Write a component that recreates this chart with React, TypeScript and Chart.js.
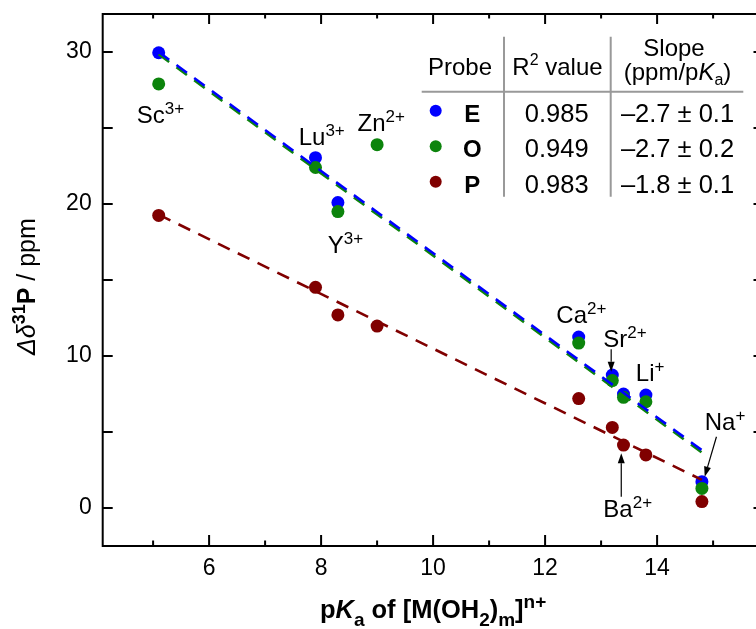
import React, { useEffect, useRef } from 'react';
import { Chart, registerables } from 'chart.js';

Chart.register(...registerables);

// ---------- data ----------
const ions = ['Sc', 'Lu', 'Zn', 'Y', 'Ca', 'Sr', 'Ba', 'Li', 'Na'];
const charges = ['3+', '3+', '2+', '3+', '2+', '2+', '2+', '+', '+'];
const pKa = [5.1, 7.9, 9.0, 8.3, 12.6, 13.2, 13.4, 13.8, 14.8];
const shiftE: (number | null)[] = [29.95, 23.05, null, 20.1, 11.25, 8.75, 7.5, 7.43, 1.73];
const shiftO: (number | null)[] = [27.9, 22.4, 23.9, 19.5, 10.85, 8.38, 7.28, 6.99, 1.29];
const shiftP: (number | null)[] = [19.25, 14.52, 11.97, 12.7, 7.2, 5.3, 4.14, 3.49, 0.42];

const fitX = [5.1, 14.8];
const fitE = [30.0, 3.8];
const fitO = [29.85, 3.65];
const fitP = [19.3, 1.85];

const probes = ['E', 'O', 'P'];
const r2Values = ['0.985', '0.949', '0.983'];
const slopes = ['\u20132.7 \u00b1 0.1', '\u20132.7 \u00b1 0.2', '\u20131.8 \u00b1 0.1'];

const xLabelTicks = [6, 8, 10, 12, 14];
const xMinorTicks = [5, 7, 9, 11, 13, 15];
const yLabelTicks = [0, 10, 20, 30];
const yMinorTicks = [5, 15, 25];

// label anchors (data units): left x, baseline y
const labelX = [4.71, 7.6, 8.65, 8.12, 12.2, 13.04, 13.04, 13.62, 14.85];
const labelY = [25.35, 23.88, 24.82, 16.76, 12.15, 10.61, -0.57, 8.38, 5.13];

// arrows (data units): tail -> tip
const arrowFromX = [13.18, 13.36, 15.06];
const arrowFromY = [10.44, 0.74, 4.69];
const arrowToX = [13.18, 13.36, 14.85];
const arrowToY = [8.97, 3.6, 2.06];

const COLORS = { E: '#0000ff', O: '#0c840c', P: '#800000' };
const FAMILY = "'Liberation Sans', Arial, sans-serif";

type Seg = { t: string; style?: string; weight?: string; size: number; dy?: number };

function fontOf(s: Seg) {
  return `${s.style || 'normal'} ${s.weight || 'normal'} ${s.size}px ${FAMILY}`;
}

function drawRich(ctx: CanvasRenderingContext2D, segs: Seg[], x: number, y: number, align: 'left' | 'center') {
  let total = 0;
  for (const s of segs) {
    ctx.font = fontOf(s);
    total += ctx.measureText(s.t).width;
  }
  let cx = align === 'center' ? x - total / 2 : x;
  ctx.textAlign = 'left';
  ctx.textBaseline = 'alphabetic';
  for (const s of segs) {
    ctx.font = fontOf(s);
    ctx.fillText(s.t, cx, y + (s.dy || 0));
    cx += ctx.measureText(s.t).width;
  }
}

const decorPlugin = {
  id: 'decor',
  afterDraw(chart: any) {
    const ctx: CanvasRenderingContext2D = chart.ctx;
    const { left, right, top, bottom } = chart.chartArea;
    const xs = chart.scales.x;
    const ys = chart.scales.y;
    ctx.save();
    ctx.strokeStyle = '#000';
    ctx.fillStyle = '#000';
    ctx.lineWidth = 2;
    // frame
    ctx.strokeRect(left, top, right - left, bottom - top);
    // inward ticks
    ctx.beginPath();
    for (const v of xLabelTicks) {
      const px = xs.getPixelForValue(v);
      ctx.moveTo(px, bottom); ctx.lineTo(px, bottom - 11);
      ctx.moveTo(px, top); ctx.lineTo(px, top + 10);
    }
    for (const v of xMinorTicks) {
      const px = xs.getPixelForValue(v);
      ctx.moveTo(px, bottom); ctx.lineTo(px, bottom - 5.5);
      ctx.moveTo(px, top); ctx.lineTo(px, top + 4.5);
    }
    for (const v of [...yLabelTicks, ...yMinorTicks]) {
      const py = ys.getPixelForValue(v);
      ctx.moveTo(left, py); ctx.lineTo(left + 10, py);
      ctx.moveTo(right, py); ctx.lineTo(right - 10, py);
    }
    ctx.stroke();

    // point labels
    ctx.fillStyle = '#000';
    ions.forEach((ion, i) => {
      const px = xs.getPixelForValue(labelX[i]);
      const py = ys.getPixelForValue(labelY[i]);
      drawRich(ctx, [
        { t: ion, size: 24 },
        { t: charges[i], size: 17, dy: -9 },
      ], px, py, 'left');
    });

    // arrows
    ctx.lineWidth = 1.2;
    arrowFromX.forEach((fx, i) => {
      const x1 = xs.getPixelForValue(fx);
      const y1 = ys.getPixelForValue(arrowFromY[i]);
      const x2 = xs.getPixelForValue(arrowToX[i]);
      const y2 = ys.getPixelForValue(arrowToY[i]);
      const ang = Math.atan2(y2 - y1, x2 - x1);
      const hl = 10, hw = 3.5;
      const bx = x2 - hl * Math.cos(ang);
      const by = y2 - hl * Math.sin(ang);
      ctx.beginPath();
      ctx.moveTo(x1, y1); ctx.lineTo(bx, by);
      ctx.stroke();
      ctx.beginPath();
      ctx.moveTo(x2, y2);
      ctx.lineTo(bx + hw * Math.sin(ang), by - hw * Math.cos(ang));
      ctx.lineTo(bx - hw * Math.sin(ang), by + hw * Math.cos(ang));
      ctx.closePath();
      ctx.fill();
    });

    // table
    ctx.strokeStyle = '#999';
    ctx.lineWidth = 2;
    ctx.beginPath();
    ctx.moveTo(421.7, 91.7); ctx.lineTo(743.3, 91.7);
    ctx.moveTo(504, 36.7); ctx.lineTo(504, 196.7);
    ctx.moveTo(610.7, 36.7); ctx.lineTo(610.7, 196.7);
    ctx.stroke();
    ctx.fillStyle = '#000';
    const TS = 24;
    const NS = 25.5;
    drawRich(ctx, [{ t: 'Probe', size: TS }], 460, 75, 'center');
    drawRich(ctx, [{ t: 'R', size: TS }, { t: '2', size: 16, dy: -10 }, { t: ' value', size: TS }], 557.5, 75, 'center');
    drawRich(ctx, [{ t: 'Slope', size: TS }], 674, 56, 'center');
    drawRich(ctx, [
      { t: '(ppm/p', size: TS },
      { t: 'K', size: TS, style: 'italic' },
      { t: 'a', size: 16, dy: 5 },
      { t: ')', size: TS },
    ], 677.5, 80, 'center');
    const rowBase = [121.7, 157.3, 192.7];
    probes.forEach((p, i) => {
      const by = rowBase[i];
      ctx.fillStyle = (COLORS as any)[p];
      ctx.beginPath();
      ctx.arc(435.7, by - 11, 6, 0, Math.PI * 2);
      ctx.fill();
      ctx.fillStyle = '#000';
      drawRich(ctx, [{ t: p, size: TS, weight: 'bold' }], 472.3, by, 'center');
      drawRich(ctx, [{ t: r2Values[i], size: NS }], 556.7, by, 'center');
      drawRich(ctx, [{ t: slopes[i], size: NS }], 677.5, by, 'center');
    });

    // axis titles
    const cxMid = (left + right) / 2;
    drawRich(ctx, [
      { t: 'p', size: 25.5, weight: 'bold' },
      { t: 'K', size: 25.5, weight: 'bold', style: 'italic' },
      { t: 'a', size: 19, weight: 'bold', dy: 8 },
      { t: ' of [M(OH', size: 25.5, weight: 'bold' },
      { t: '2', size: 19, weight: 'bold', dy: 8 },
      { t: ')', size: 25.5, weight: 'bold' },
      { t: 'm', size: 19, weight: 'bold', dy: 8 },
      { t: ']', size: 25.5, weight: 'bold' },
      { t: 'n+', size: 19, weight: 'bold', dy: -10 },
    ], cxMid, 618, 'center');

    ctx.translate(35, 355);
    ctx.rotate(-Math.PI / 2);
    drawRich(ctx, [
      { t: '\u0394\u03b4', size: 25, style: 'italic' },
      { t: '31', size: 18, weight: 'bold', dy: -10 },
      { t: 'P', size: 25, weight: 'bold' },
      { t: ' / ppm', size: 25 },
    ], 0, 0, 'left');
    ctx.restore();
  },
};

function pts(ys: (number | null)[]) {
  const out: { x: number; y: number }[] = [];
  ys.forEach((y, i) => { if (y !== null) out.push({ x: pKa[i], y }); });
  return out;
}
function line(ys: number[]) {
  return fitX.map((x, i) => ({ x, y: ys[i] }));
}

function zeroPad(s: any) {
  s.paddingTop = 0;
  s.paddingBottom = 0;
  s.paddingLeft = 0;
  s.paddingRight = 0;
}

export default function App() {
  const ref = useRef<HTMLCanvasElement | null>(null);
  useEffect(() => {
    document.body.style.margin = '0';
    document.body.style.overflow = 'hidden';
    document.documentElement.style.overflow = 'hidden';
    const canvas = ref.current!;
    const lineDs = (data: any, color: string, order: number) => ({
      type: 'line' as const,
      data,
      borderColor: color,
      borderWidth: 2.6,
      borderDash: [13, 9],
      pointRadius: 0,
      showLine: true,
      fill: false,
      order,
    });
    const ptDs = (data: any, color: string, order: number) => ({
      type: 'scatter' as const,
      data,
      backgroundColor: color,
      borderWidth: 0,
      pointRadius: 6.5,
      pointHoverRadius: 6.5,
      order,
    });
    const chart = new Chart(canvas, {
      type: 'scatter',
      data: {
        datasets: [
          lineDs(line(fitE), COLORS.E, 0),
          lineDs(line(fitO), COLORS.O, 1),
          lineDs(line(fitP), COLORS.P, 2),
          ptDs(pts(shiftP), COLORS.P, 3),
          ptDs(pts(shiftO), COLORS.O, 4),
          ptDs(pts(shiftE), COLORS.E, 5),
        ] as any,
      },
      options: {
        responsive: false,
        animation: false,
        devicePixelRatio: 1,
        layout: { padding: { left: 0, top: 14, right: 16.5, bottom: 0 } },
        plugins: { legend: { display: false }, tooltip: { enabled: false } },
        events: [],
        scales: {
          x: {
            type: 'linear',
            min: 4.1,
            max: 15.9,
            grid: { display: false, drawTicks: false },
            border: { display: false },
            ticks: {
              padding: 9,
              color: '#000',
              font: { family: FAMILY, size: 23 },
              autoSkip: false,
              maxRotation: 0,
            },
            afterBuildTicks: (s: any) => { s.ticks = xLabelTicks.map((v) => ({ value: v })); },
            afterFit: (s: any) => { s.height = 83; zeroPad(s); },
          },
          y: {
            type: 'linear',
            min: -2.5,
            max: 32.5,
            grid: { display: false, drawTicks: false },
            border: { display: false },
            ticks: {
              padding: 11,
              color: '#000',
              font: { family: FAMILY, size: 23 },
              autoSkip: false,
            },
            afterBuildTicks: (s: any) => { s.ticks = yLabelTicks.map((v) => ({ value: v })); },
            afterFit: (s: any) => { s.width = 102.7; zeroPad(s); },
          },
        },
      },
      plugins: [decorPlugin],
    } as any);
    return () => chart.destroy();
  }, []);
  return (
    <div style={{ width: 756, height: 629, overflow: 'hidden', position: 'relative' }}>
      <canvas ref={ref} width={780} height={629} style={{ display: 'block', width: 780, height: 629 }} />
    </div>
  );
}
